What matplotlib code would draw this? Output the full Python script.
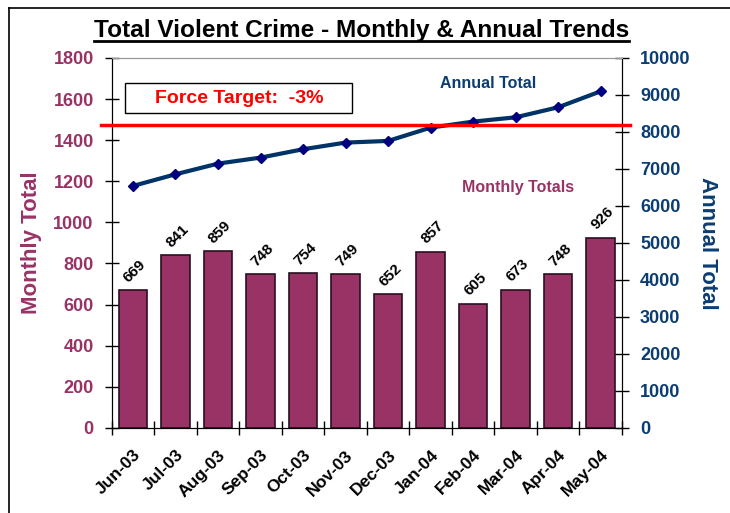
import matplotlib.pyplot as plt
from matplotlib.lines import Line2D
from matplotlib.patches import Rectangle

plt.rcParams['font.family'] = ['Liberation Sans', 'DejaVu Sans']

# Data
months = ['Jun-03', 'Jul-03', 'Aug-03', 'Sep-03', 'Oct-03', 'Nov-03',
          'Dec-03', 'Jan-04', 'Feb-04', 'Mar-04', 'Apr-04', 'May-04']
monthly = [669, 841, 859, 748, 754, 749, 652, 857, 605, 673, 748, 926]
annual = [6540, 6855, 7144, 7306, 7532, 7712, 7757, 8117, 8279, 8396, 8667, 9099]
target = 8190

bar_col = '#993366'
line_col = '#003366'
right_col = '#0B3D73'

fig = plt.figure(figsize=(7.3, 5.13), dpi=100)
ax = fig.add_axes([0.153, 0.166, 0.699, 0.721])
ax2 = ax.twinx()

x = list(range(len(months)))
ax.bar(x, monthly, width=0.67, color=bar_col, edgecolor='#2a1020', linewidth=1.2, zorder=2)
for xi, v in zip(x, monthly):
    ax.text(xi + 0.05, v + 25, str(v), rotation=45, ha='center', va='bottom',
            fontsize=11, fontweight='bold', color='black')

ax.set_xlim(-0.5, len(months) - 0.5)
ax.set_ylim(0, 1800)
ax.set_yticks(range(0, 1801, 200))
ax.set_xticks([i - 0.5 for i in range(len(months) + 1)], minor=False)
ax.set_xticklabels([])
ax.set_xticks(x, minor=True)
ax.set_xticklabels(months, minor=True, rotation=45, ha='right', rotation_mode='anchor',
                   fontsize=12.5, fontweight='bold')
ax.tick_params(axis='x', which='minor', length=0, pad=14)
ax.tick_params(axis='x', which='major', direction='inout', length=10, width=1)
ax.tick_params(axis='y', direction='inout', length=10, width=1, colors='black',
               labelcolor=bar_col, labelsize=13, pad=8)
for t in ax.get_yticklabels():
    t.set_fontweight('bold')
ax.set_ylabel('Monthly Total', color=bar_col, fontsize=16, fontweight='bold', labelpad=8)

ax2.plot(x, annual, color=line_col, linewidth=3, marker='D', markersize=5,
         markerfacecolor='#000080', markeredgecolor='#000080', zorder=3)
ax2.set_ylim(0, 10000)
ax2.set_yticks(range(0, 10001, 1000))
ax2.tick_params(axis='y', direction='inout', length=10, width=1, colors='black',
                labelcolor=right_col, labelsize=13, pad=8)
for t in ax2.get_yticklabels():
    t.set_fontweight('bold')
ax2.set_ylabel('Annual Total', color=right_col, fontsize=16, fontweight='bold',
               rotation=-90, labelpad=20)

for a in (ax, ax2):
    a.spines['top'].set_color('#999999')
    a.spines['left'].set_color('black')
    a.spines['right'].set_color('black')
    a.spines['bottom'].set_color('black')

# force target line, running a little past both axes
ax2.plot([-0.76, len(months) - 0.3], [target, target], color='red', linewidth=2.5,
         clip_on=False, zorder=4)

# target box
ax2.add_patch(Rectangle((0.0255, 0.851), 0.445, 0.081, transform=ax2.transAxes,
                        facecolor='white', edgecolor='black', linewidth=1, zorder=5))
ax2.text(0.25, 0.89, 'Force Target:  -3%', transform=ax2.transAxes, color='red',
         fontsize=14, fontweight='bold', ha='center', va='center', zorder=6)
ax2.text(0.737, 0.932, 'Annual Total', transform=ax2.transAxes, color=right_col,
         fontsize=11.5, fontweight='bold', ha='center', va='center')
ax2.text(0.796, 0.651, 'Monthly Totals', transform=ax2.transAxes, color=bar_col,
         fontsize=11.5, fontweight='bold', ha='center', va='center')

title = fig.text(0.495, 0.94, 'Total Violent Crime - Monthly & Annual Trends',
                 ha='center', va='center', fontsize=17.6, fontweight='bold')

# underline the title
fig.canvas.draw()
bb = title.get_window_extent().transformed(fig.transFigure.inverted())
fig.add_artist(Line2D([bb.x0, bb.x1], [bb.y0 + 0.002, bb.y0 + 0.002], color='black',
                      linewidth=2, transform=fig.transFigure))

# page border (left and top edges visible)
fig.add_artist(Line2D([0.013, 0.013], [0, 0.985], color='black', linewidth=1.2,
                      transform=fig.transFigure))
fig.add_artist(Line2D([0.013, 1.0], [0.985, 0.985], color='black', linewidth=1.2,
                      transform=fig.transFigure))

fig.savefig('out.png', dpi=100)
